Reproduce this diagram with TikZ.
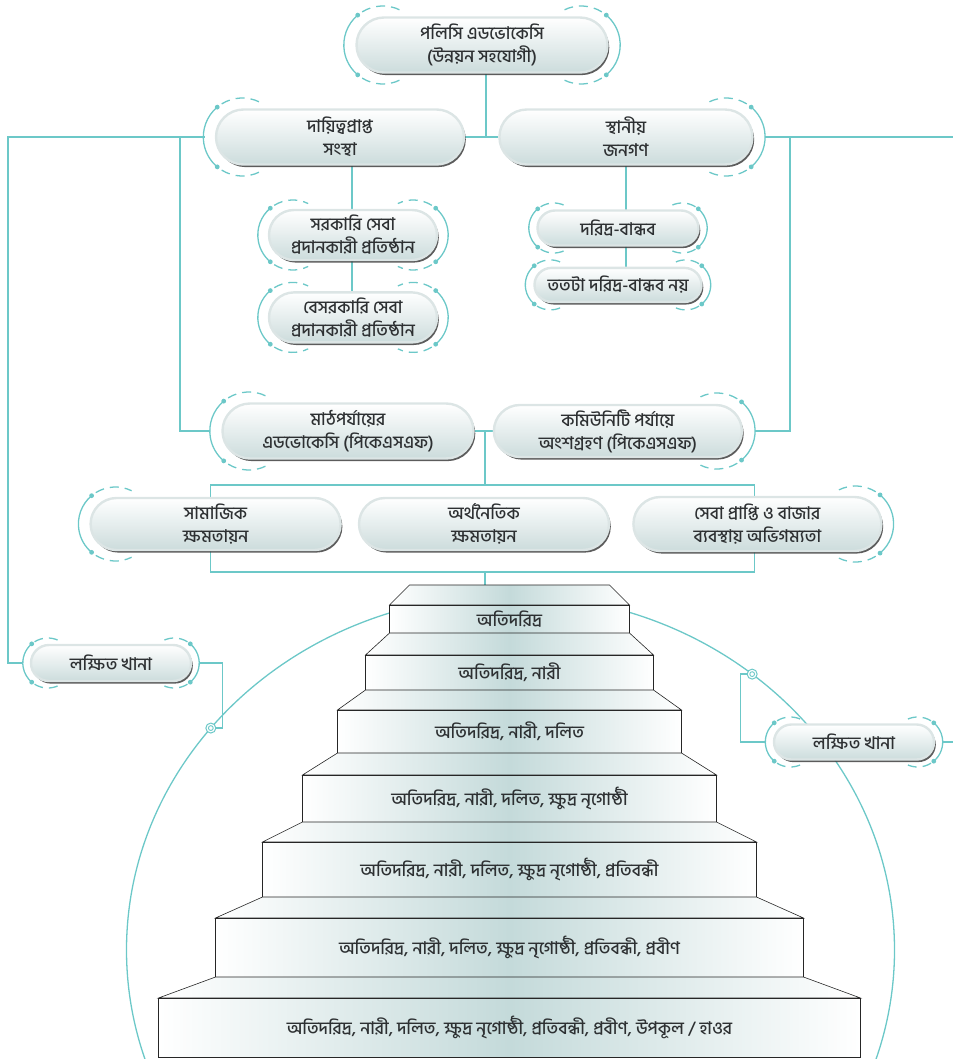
\documentclass[tikz,border=0pt]{standalone}
\usepackage{fontspec}
\newfontfamily\bn[Script=Bengali, UprightFont=* Medium]{Hind Siliguri}
\usetikzlibrary{shapes.misc, positioning, calc, shadows, backgrounds}
\definecolor{linkc}{RGB}{108,200,200}
\definecolor{halo}{RGB}{220,229,229}
\definecolor{pillbot}{RGB}{204,220,220}
\definecolor{txtc}{RGB}{45,48,50}
\definecolor{stepc}{RGB}{196,218,218}

\begin{document}
\begin{tikzpicture}[
    x=1pt, y=-1pt,
    font=\bn\fontsize{17.5}{23}\selectfont,
    % Styles
    link/.style={draw=linkc, line width=1.3pt},
    pill/.style={rounded rectangle, draw=halo, line width=2.4pt, top color=white, bottom color=pillbot, text=txtc, align=center, inner sep=1pt,
      drop shadow={shadow xshift=1.8pt, shadow yshift=-2.6pt, fill=black!75, opacity=.85}},
    stepbox/.style={draw=black!85, line width=.8pt, left color=white, right color=white, middle color=stepc, text=txtc, inner sep=0pt},
    knot/.style={circle, draw=linkc, line width=1pt, fill=white, minimum size=10pt, inner sep=0pt,
      path picture={\draw[linkc, line width=.9pt] (path picture bounding box.center) circle[radius=2.4pt];}},
    pics/ringl/.style={code={
      \draw[link] (130:#1) arc[start angle=130, end angle=230, radius=#1];
      \draw[link, dash pattern=on 9pt off 6pt] (122:#1) arc[start angle=122, end angle=64, radius=#1];
      \draw[link, dash pattern=on 9pt off 6pt] (238:#1) arc[start angle=238, end angle=296, radius=#1];
      \fill[linkc] (130:#1) circle[radius=2.4pt] (230:#1) circle[radius=2.4pt];
    }},
    pics/ringr/.style={code={
      \draw[link] (-50:#1) arc[start angle=-50, end angle=50, radius=#1];
      \draw[link, dash pattern=on 9pt off 6pt] (58:#1) arc[start angle=58, end angle=116, radius=#1];
      \draw[link, dash pattern=on 9pt off 6pt] (-58:#1) arc[start angle=-58, end angle=-116, radius=#1];
      \fill[linkc] (50:#1) circle[radius=2.4pt] (-50:#1) circle[radius=2.4pt];
    }}
]
\useasboundingbox (0,0) rectangle (953,1059);

% 1. Policy level
\node[pill, minimum width=253pt, minimum height=55pt] (policy) at (482,45) {পলিসি এডভোকেসি\\(উন্নয়ন সহযোগী)};
\node[pill, minimum width=250pt, minimum height=55pt] (dayitto) at (340,137) {দায়িত্বপ্রাপ্ত\\সংস্থা};
\node[pill, minimum width=255pt, minimum height=55pt, right=33pt of dayitto] (sthaniyo) {স্থানীয়\\জনগণ};

\pic at ([xshift=27.5pt]policy.west) {ringl=39pt};
\pic at ([xshift=-27.5pt]policy.east) {ringr=39pt};
\pic at ([xshift=27.5pt]dayitto.west) {ringl=39pt};
\pic at ([xshift=-27.5pt]sthaniyo.east) {ringr=39pt};

% 2. Providers and people
\node[pill, minimum width=170pt, minimum height=50pt] (sarkari) at (353,235) {সরকারি সেবা\\প্রদানকারী প্রতিষ্ঠান};
\node[pill, minimum width=170pt, minimum height=50pt, below=30pt of sarkari] (besarkari) {বেসরকারি সেবা\\প্রদানকারী প্রতিষ্ঠান};
\node[pill, minimum width=163pt, minimum height=35pt] (daridra) at (618,228) {দরিদ্র-বান্ধব};
\node[pill, minimum width=169pt, minimum height=34pt, below=20pt of daridra] (tatota) {ততটা দরিদ্র-বান্ধব নয়};

\foreach \n/\h/\r in {sarkari/25/35, besarkari/25/35, daridra/17.5/25, tatota/17/25}{
  \pic at ([xshift=\h pt]\n.west) {ringl=\r pt};
  \pic at ([xshift=-\h pt]\n.east) {ringr=\r pt};
}

% 3. Field level
\node[pill, minimum width=253pt, minimum height=55pt] (mathpar) at (348,431) {মাঠপর্যায়ের\\এডভোকেসি (পিকেএসএফ)};
\node[pill, minimum width=250pt, minimum height=52pt, right=18pt of mathpar] (community) {কমিউনিটি পর্যায়ে\\অংশগ্রহণ (পিকেএসএফ)};

\pic at ([xshift=27.5pt]mathpar.west) {ringl=39pt};
\pic at ([xshift=-26pt]community.east) {ringr=38pt};

% 4. Empowerment
\node[pill, minimum width=252pt, minimum height=52pt] (artha) at (484,524) {অর্থনৈতিক\\ক্ষমতায়ন};
\node[pill, minimum width=252pt, minimum height=52pt, left=16pt of artha] (samajik) {সামাজিক\\ক্ষমতায়ন};
\node[pill, minimum width=250pt, minimum height=54pt, right=22pt of artha] (seba) {সেবা প্রাপ্তি ও বাজার\\ব্যবস্থায় অভিগম্যতা};

\pic at ([xshift=26pt]samajik.west) {ringl=37pt};
\pic at ([xshift=-27pt]seba.east) {ringr=38pt};

% 5. Target households
\node[pill, minimum width=162pt, minimum height=36pt] (lokL) at (111,663) {লক্ষিত খানা};
\node[pill, minimum width=162pt, minimum height=35pt] (lokR) at (854,742) {লক্ষিত খানা};

\pic at ([xshift=18pt]lokL.west) {ringl=25pt};
\pic at ([xshift=-18pt]lokL.east) {ringr=25pt};
\pic at ([xshift=17.5pt]lokR.west) {ringl=25pt};
\pic at ([xshift=-17.5pt]lokR.east) {ringr=25pt};

% 6. Staircase
\foreach \i/\hp/\yt/\yr/\yb/\hw/\lab in {
  1/100/585/605/633/120/{অতিদরিদ্র},
  2/120/633/655/690/144/{অতিদরিদ্র, নারী},
  3/144/690/710/753/172/{অতিদরিদ্র, নারী, দলিত},
  4/172/753/775/822/207/{অতিদরিদ্র, নারী, দলিত, ক্ষুদ্র নৃগোষ্ঠী},
  5/207/822/842/897/247/{অতিদরিদ্র, নারী, দলিত, ক্ষুদ্র নৃগোষ্ঠী, প্রতিবন্ধী},
  6/247/897/918/977/294/{অতিদরিদ্র, নারী, দলিত, ক্ষুদ্র নৃগোষ্ঠী, প্রতিবন্ধী, প্রবীণ},
  7/294/977/998/1057/351/{অতিদরিদ্র, নারী, দলিত, ক্ষুদ্র নৃগোষ্ঠী, প্রতিবন্ধী, প্রবীণ, উপকূল / হাওর}}{
  \shade[draw=black!85, line width=.6pt, left color=white, right color=white, middle color=stepc]
    (509.5-\hp,\yt) -- (509.5+\hp,\yt) -- (509.5+\hw,\yr) -- (509.5-\hw,\yr) -- cycle;
  \node[stepbox, minimum width=2*\hw, minimum height=\yb-\yr] (step\i) at (509.5,{(\yr+\yb)/2}) {\lab};
}

% 7. Rings on the arc
\coordinate (arcc) at (510.5,950);
\node[knot] (ringL) at ($(arcc)+(141.3:384pt and 355pt)$) {};
\node[knot] (ringR) at ($(arcc)+(51:384pt and 355pt)$) {};

% connectors
\coordinate (hubtop) at (486,137);
\coordinate (trunkL) at (8,137);
\coordinate (forkL) at (180,137);
\coordinate (trunkR) at (953,137);
\coordinate (forkR) at (790,137);
\coordinate (spineL) at (352,0);
\coordinate (spineR) at (626,0);
\coordinate (hubmid) at (485,431);
\coordinate (boxtop) at (485,485);
\coordinate (boxbot) at (485,572);
\coordinate (stairtop) at (485,585);

\begin{scope}[on background layer]
  \begin{scope}
    \clip (0,0) rectangle (953,1059);
    \draw[link] (arcc) ellipse[x radius=384pt, y radius=355pt];
  \end{scope}
  \draw[link] (policy.south -| hubtop) -- (hubtop);
  \draw[link] (dayitto.east) -- (sthaniyo.west);
  \draw[link, shorten <=10pt, shorten >=7pt] (dayitto.west) -- (trunkL) |- (lokL.west);
  \draw[link, shorten >=11pt] (forkL) |- (mathpar.west);
  \draw[link, shorten <=11pt] (sthaniyo.east) -- (trunkR);
  \draw[link, shorten >=12pt] (forkR) |- (community.east);
  \draw[link] (dayitto.south -| spineL) -- (besarkari.north -| spineL);
  \draw[link] (sthaniyo.south -| spineR) -- (tatota.north -| spineR);
  \draw[link] (mathpar.east) -- (community.west);
  \draw[link] (hubmid) -- (boxtop);
  \draw[link] ([xshift=-5pt]samajik.center |- boxtop) rectangle ([xshift=-3pt]seba.center |- boxbot);
  \draw[link] (boxbot) -- (stairtop);
  \draw[link, shorten <=7pt] (lokL.east) -- ++(30,0) |- (ringL);
  \draw[link, shorten <=7pt] (lokR.west) -- ++(-32,0) |- (ringR);
  \draw[link, shorten <=7pt] (lokR.east) -- (lokR.east -| trunkR);
\end{scope}

\end{tikzpicture}
\end{document}
